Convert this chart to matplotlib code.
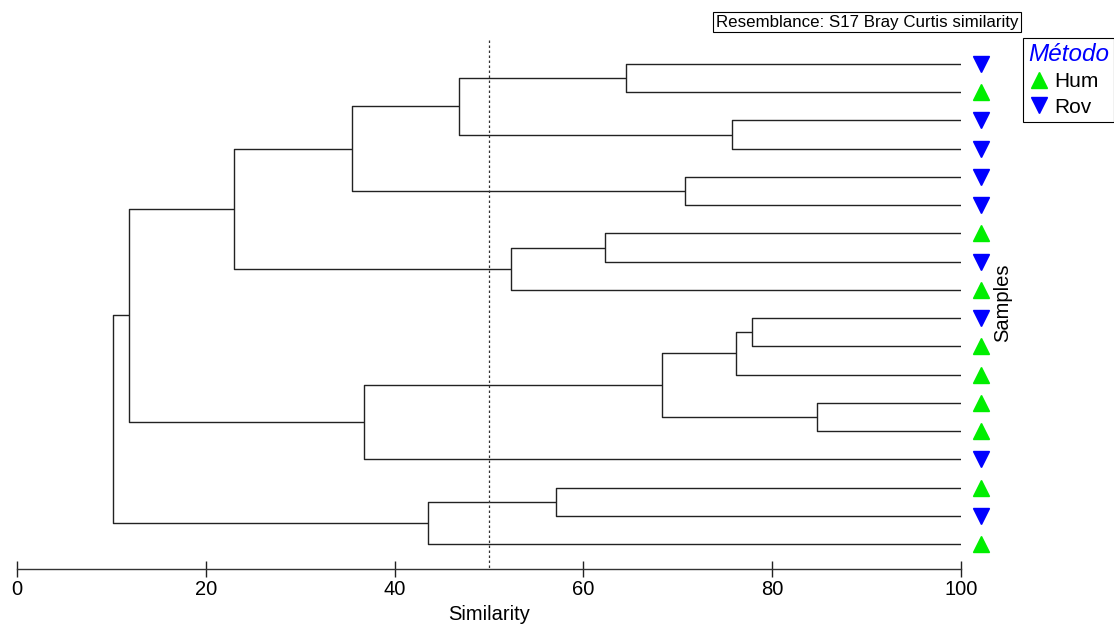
import matplotlib
matplotlib.use("Agg")
import matplotlib.pyplot as plt
from matplotlib.lines import Line2D

plt.rcParams['font.family'] = ['Liberation Sans', 'DejaVu Sans']

# Sample groups, in dendrogram leaf order (top to bottom)
leaf_groups = ["Rov", "Hum", "Rov", "Rov", "Rov", "Rov", "Hum", "Rov", "Hum",
               "Rov", "Hum", "Hum", "Hum", "Hum", "Rov", "Hum", "Rov", "Hum"]

# Agglomeration steps: node ids 0..17 are leaves, each merge creates node 18, 19, ...
merge_a = [0, 2, 18, 4, 20, 6, 23, 22, 9, 26, 12, 27, 29, 25, 15, 32, 31]
merge_b = [1, 3, 19, 5, 21, 7, 8, 24, 10, 11, 13, 28, 14, 30, 16, 17, 33]
merge_sim = [64.5, 75.7, 46.8, 70.8, 35.5, 62.3, 52.3, 23.0, 77.9, 76.2,
             84.7, 68.3, 36.8, 11.9, 57.1, 43.5, 10.2]

cut_level = 50
x_ticks = [0, 20, 40, 60, 80, 100]

group_style = {"Hum": ("^", "#00ee00"), "Rov": ("v", "#0000ff")}

W, H = 1114, 627
fig = plt.figure(figsize=(W / 100, H / 100), dpi=100)
ax = fig.add_axes([17 / W, 1 - 569 / H, (961 - 17) / W, 569 / H])

n = len(leaf_groups)
ax.set_xlim(0, 100)
ax.set_ylim(17.886, -2.267)

# Dendrogram branches
pos = {i: (100.0, float(i)) for i in range(n)}
line_kw = dict(color="#222222", lw=1.0, solid_capstyle="butt")
for k, (a, b, s) in enumerate(zip(merge_a, merge_b, merge_sim)):
    xa, ya = pos[a]
    xb, yb = pos[b]
    ax.plot([xa, s, s, xb], [ya, ya, yb, yb], **line_kw)
    pos[n + k] = (s, (ya + yb) / 2)

# Leaf symbols
for i, g in enumerate(leaf_groups):
    m, c = group_style[g]
    ax.plot(102.1, i, marker=m, color=c, markersize=12, linestyle="none",
            clip_on=False)

# Similarity cut line
ax.vlines(cut_level, -0.85, 17.886, colors="#333333", linestyles=(0, (2, 2)),
          lw=0.9)

# Axis styling
for side in ("left", "right", "top"):
    ax.spines[side].set_visible(False)
ax.spines["bottom"].set_color("#333333")
ax.spines["bottom"].set_linewidth(1.0)
ax.set_yticks([])
ax.set_xticks(x_ticks)
ax.set_xticklabels([str(t) for t in x_ticks])
ax.tick_params(axis="x", direction="inout", length=12, width=1.0,
               labelsize=14.5, pad=2, color="#222222")
ax.set_xlabel("Similarity", fontsize=14.5, labelpad=4)

fig.text(1003 / W, 1 - 303 / H, "Samples", rotation=90, fontsize=14.5,
         ha="center", va="center")

fig.text(716 / W, 1 - 22 / H, "Resemblance: S17 Bray Curtis similarity",
         fontsize=12.2, ha="left", va="center",
         bbox=dict(boxstyle="square,pad=0.15", fc="white", ec="black", lw=0.8))

handles = [Line2D([], [], marker=group_style[g][0], color=group_style[g][1],
                  linestyle="none", markersize=11) for g in ("Hum", "Rov")]
leg = fig.legend(handles, ["Hum", "Rov"], loc="upper left",
                 bbox_to_anchor=(1023 / W, 1 - 38 / H), frameon=True,
                 fancybox=False, edgecolor="black", framealpha=1,
                 fontsize=15, title="Método", borderpad=0.25,
                 handletextpad=0.25, labelspacing=0.3, handlelength=1.0,
                 borderaxespad=0, alignment="left")
leg.get_title().set_fontsize(17.5)
leg.get_title().set_fontstyle("italic")
leg.get_title().set_color("#0000ff")
leg.get_frame().set_linewidth(0.8)

fig.savefig("out.png", dpi=100)
